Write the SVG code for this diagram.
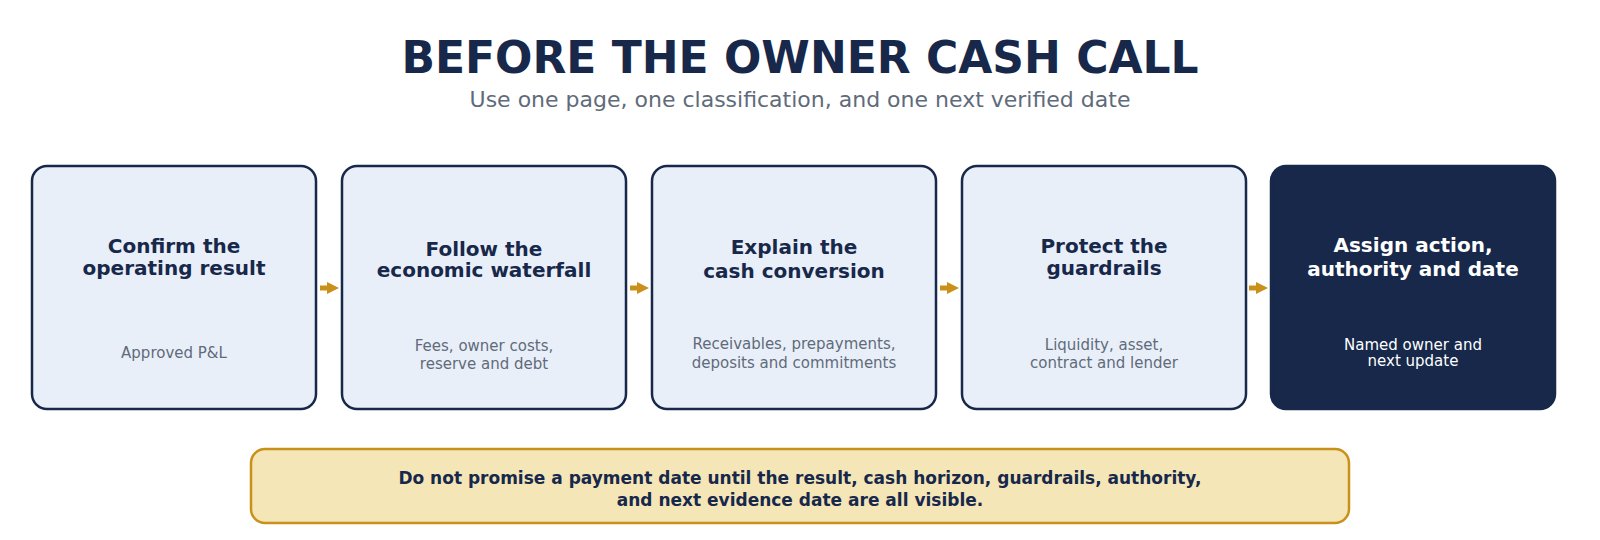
<svg xmlns="http://www.w3.org/2000/svg" width="1600" height="540" viewBox="0 0 1600 540">
<style>
.box{fill:#e9eff9;stroke:#17284a;stroke-width:2.5}
.dark{fill:#17284a;stroke:#17284a;stroke-width:2.5}
.t{font-family:"DejaVu Sans",sans-serif;font-weight:bold;font-size:20px;fill:#17284a;text-anchor:middle}
.s{font-family:"DejaVu Sans",sans-serif;font-size:15px;fill:#5f6b7a;text-anchor:middle}
.w{fill:#ffffff}
.ar{fill:none;stroke:#c9901a;stroke-width:5}
</style>
<defs><marker id="h" viewBox="0 0 10 10" refX="5" refY="5" markerWidth="2.4" markerHeight="3.6" orient="auto" markerUnits="strokeWidth"><path d="M0,0 L10,5 L0,10 z" fill="#c9901a"/></marker></defs>
<rect width="1600" height="540" fill="#ffffff"/>
<text x="800" y="73" font-family="DejaVu Sans,sans-serif" font-weight="bold" font-size="44" fill="#17284a" text-anchor="middle">BEFORE THE OWNER CASH CALL</text>
<text x="800" y="107" font-family="DejaVu Sans,sans-serif" font-size="22" fill="#5f6b7a" text-anchor="middle">Use one page, one classification, and one next verified date</text>
<g id="connectors">
<line class="ar" x1="320" y1="288" x2="333" y2="288" marker-end="url(#h)"/>
<line class="ar" x1="630" y1="288" x2="643" y2="288" marker-end="url(#h)"/>
<line class="ar" x1="940" y1="288" x2="953" y2="288" marker-end="url(#h)"/>
<line class="ar" x1="1249" y1="288" x2="1262" y2="288" marker-end="url(#h)"/>
</g>
<g id="n1"><rect class="box" x="32" y="166" width="284" height="243" rx="15"/>
<text class="t" x="174" y="253">Confirm the</text><text class="t" x="174" y="275">operating result</text>
<text class="s" x="174" y="358">Approved P&amp;L</text></g>
<g id="n2"><rect class="box" x="342" y="166" width="284" height="243" rx="15"/>
<text class="t" x="484" y="256">Follow the</text><text class="t" x="484" y="277">economic waterfall</text>
<text class="s" x="484" y="351">Fees, owner costs,</text><text class="s" x="484" y="369">reserve and debt</text></g>
<g id="n3"><rect class="box" x="652" y="166" width="284" height="243" rx="15"/>
<text class="t" x="794" y="254">Explain the</text><text class="t" x="794" y="278">cash conversion</text>
<text class="s" x="794" y="349">Receivables, prepayments,</text><text class="s" x="794" y="368">deposits and commitments</text></g>
<g id="n4"><rect class="box" x="962" y="166" width="284" height="243" rx="15"/>
<text class="t" x="1104" y="253">Protect the</text><text class="t" x="1104" y="275">guardrails</text>
<text class="s" x="1104" y="350">Liquidity, asset,</text><text class="s" x="1104" y="368">contract and lender</text></g>
<g id="n5"><rect class="dark" x="1271" y="166" width="284" height="243" rx="15"/>
<text class="t w" x="1413" y="252">Assign action,</text><text class="t w" x="1413" y="276">authority and date</text>
<text class="s w" x="1413" y="350">Named owner and</text><text class="s w" x="1413" y="366">next update</text></g>
<g id="note"><rect x="251" y="449" width="1098" height="74" rx="14" fill="#f5e6b8" stroke="#c9901a" stroke-width="2.5"/>
<text x="800" y="484" font-family="DejaVu Sans,sans-serif" font-weight="bold" font-size="17" fill="#17284a" text-anchor="middle">Do not promise a payment date until the result, cash horizon, guardrails, authority,</text>
<text x="800" y="506" font-family="DejaVu Sans,sans-serif" font-weight="bold" font-size="17" fill="#17284a" text-anchor="middle">and next evidence date are all visible.</text></g>
</svg>
